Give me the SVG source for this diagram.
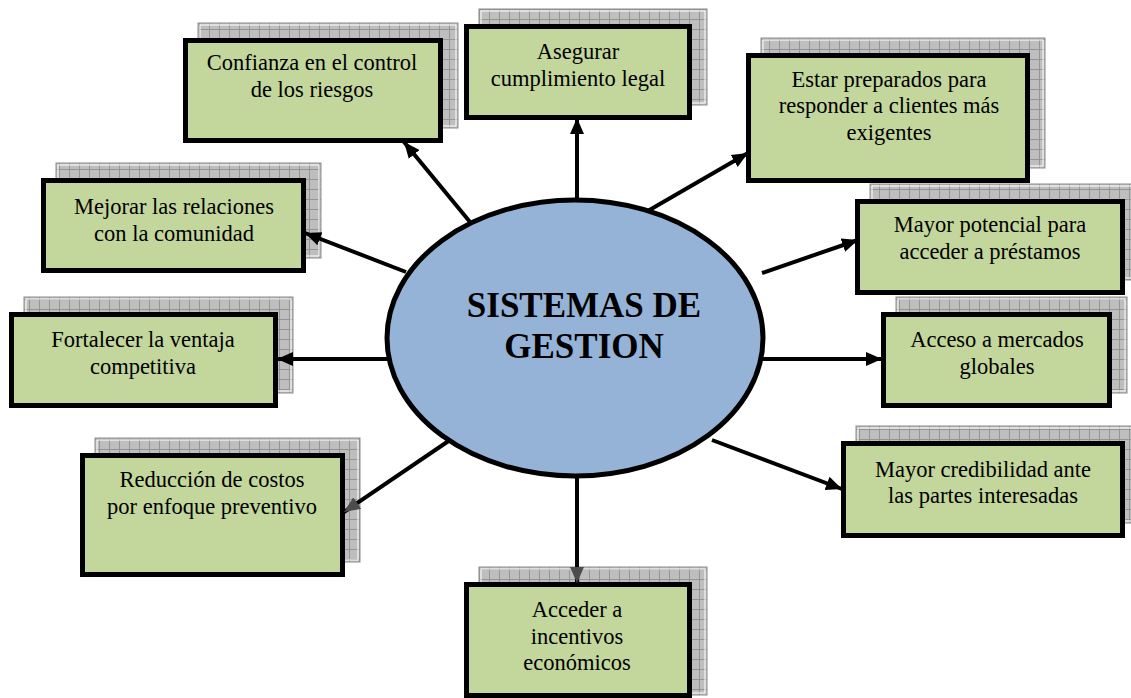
<svg xmlns="http://www.w3.org/2000/svg" width="1131" height="698" viewBox="0 0 1131 698">
  <style>
    .shadow { fill: url(#grid); stroke: #8c8c8c; stroke-width: 1; }
    .shadow-in { fill: none; stroke: #ffffff; stroke-width: 1; }
    .box { fill: #c3d69b; stroke: #000000; stroke-width: 5; }
    .conn { stroke: #000000; stroke-width: 4; fill: none; }
    text { font-family: "Liberation Serif", serif; }
    .label { font-size: 22.5px; font-weight: 400; text-anchor: middle; fill: #000000; }
    .title { font-size: 35px; font-weight: 700; text-anchor: middle; fill: #000000; }
  </style>
  <defs>
    <!-- grey grid used for the drop shadows behind the boxes -->
    <pattern id="grid" patternUnits="userSpaceOnUse" width="10" height="10">
      <rect width="10" height="10" fill="#bebebe"/>
      <path d="M9.5 0 V10 M0 9.5 H10" stroke="#949494" stroke-width="1"/>
    </pattern>
    <marker id="head" markerUnits="userSpaceOnUse" markerWidth="18" markerHeight="16" refX="16" refY="8" orient="auto">
      <path d="M0 1 L16 8 L0 15 Z" fill="#000000"/>
    </marker>
    <marker id="head-grey" markerUnits="userSpaceOnUse" markerWidth="18" markerHeight="16" refX="16" refY="8" orient="auto">
      <path d="M0 1 L16 8 L0 15 Z" fill="#4d4d4d"/>
    </marker>
  </defs>

  <rect width="1131" height="698" fill="#ffffff"/>

  <g id="n-confianza">
    <rect class="shadow" x="198" y="23" width="260" height="105"/>
    <rect class="shadow-in" x="200" y="25" width="256" height="101"/>
    <rect class="box" x="185.5" y="40.5" width="255" height="100"/>
    <text class="label" x="312" y="70">Confianza en el control</text>
    <text class="label" x="312" y="97">de los riesgos</text>
  </g>

  <g id="n-asegurar">
    <rect class="shadow" x="479" y="9" width="228" height="96"/>
    <rect class="shadow-in" x="481" y="11" width="224" height="92"/>
    <rect class="box" x="466.5" y="26.5" width="223" height="91"/>
    <text class="label" x="578" y="59">Asegurar</text>
    <text class="label" x="578" y="86">cumplimiento legal</text>
  </g>

  <g id="n-estar">
    <rect class="shadow" x="761" y="38" width="284" height="130"/>
    <rect class="shadow-in" x="763" y="40" width="280" height="126"/>
    <rect class="box" x="748.5" y="55.5" width="279" height="125"/>
    <text class="label" x="889" y="87">Estar preparados para</text>
    <text class="label" x="889" y="113">responder a clientes más</text>
    <text class="label" x="889" y="140">exigentes</text>
  </g>

  <g id="n-mejorar">
    <rect class="shadow" x="56" y="163" width="265" height="95"/>
    <rect class="shadow-in" x="58" y="165" width="261" height="91"/>
    <rect class="box" x="43.5" y="180.5" width="260" height="90"/>
    <text class="label" x="174" y="214">Mejorar las relaciones</text>
    <text class="label" x="174" y="241">con la comunidad</text>
  </g>

  <g id="n-prestamos">
    <rect class="shadow" x="870" y="184" width="270" height="96"/>
    <rect class="shadow-in" x="872" y="186" width="266" height="92"/>
    <rect class="box" x="857.5" y="201.5" width="265" height="91"/>
    <text class="label" x="990" y="232">Mayor potencial para</text>
    <text class="label" x="990" y="259">acceder a préstamos</text>
  </g>

  <g id="n-fortalecer">
    <rect class="shadow" x="24" y="297" width="269" height="96"/>
    <rect class="shadow-in" x="26" y="299" width="265" height="92"/>
    <rect class="box" x="11.5" y="314.5" width="264" height="91"/>
    <text class="label" x="143" y="347">Fortalecer la ventaja</text>
    <text class="label" x="143" y="374">competitiva</text>
  </g>

  <g id="n-acceso">
    <rect class="shadow" x="896" y="297" width="231" height="96"/>
    <rect class="shadow-in" x="898" y="299" width="227" height="92"/>
    <rect class="box" x="883.5" y="314.5" width="226" height="91"/>
    <text class="label" x="997" y="347">Acceso a mercados</text>
    <text class="label" x="997" y="374">globales</text>
  </g>

  <g id="n-reduccion">
    <rect class="shadow" x="95" y="438" width="265" height="124"/>
    <rect class="shadow-in" x="97" y="440" width="261" height="120"/>
    <rect class="box" x="82.5" y="455.5" width="260" height="119"/>
    <text class="label" x="212" y="487">Reducción de costos</text>
    <text class="label" x="212" y="514">por enfoque preventivo</text>
  </g>

  <g id="n-credibilidad">
    <rect class="shadow" x="856" y="426" width="284" height="97"/>
    <rect class="shadow-in" x="858" y="428" width="280" height="93"/>
    <rect class="box" x="843.5" y="443.5" width="279" height="92"/>
    <text class="label" x="983" y="477">Mayor credibilidad ante</text>
    <text class="label" x="983" y="503">las partes interesadas</text>
  </g>

  <g id="n-incentivos">
    <rect class="shadow" x="479" y="567" width="228" height="128"/>
    <rect class="shadow-in" x="481" y="569" width="224" height="124"/>
    <rect class="box" x="466.5" y="584.5" width="223" height="111"/>
    <text class="label" x="577" y="617">Acceder a</text>
    <text class="label" x="577" y="644">incentivos</text>
    <text class="label" x="577" y="670">económicos</text>
  </g>

  <!-- connectors from the central ellipse, drawn over the box shadows -->
  <g id="connectors">
    <line class="conn" x1="470" y1="222" x2="404" y2="142" marker-end="url(#head)"/>
    <line class="conn" x1="577" y1="205" x2="577" y2="118" marker-end="url(#head)"/>
    <line class="conn" x1="646" y1="212" x2="748" y2="153" marker-end="url(#head)"/>
    <line class="conn" x1="406" y1="272" x2="305" y2="233" marker-end="url(#head)"/>
    <line class="conn" x1="762" y1="273" x2="858" y2="240" marker-end="url(#head)"/>
    <line class="conn" x1="390" y1="359" x2="277" y2="359" marker-end="url(#head)"/>
    <line class="conn" x1="760" y1="359" x2="882" y2="359" marker-end="url(#head)"/>
    <line class="conn" x1="450" y1="440" x2="344" y2="512" marker-end="url(#head-grey)"/>
    <line class="conn" x1="712" y1="440" x2="842" y2="489" marker-end="url(#head)"/>
    <line class="conn" x1="577" y1="472" x2="577" y2="583" marker-end="url(#head-grey)"/>
  </g>

  <g id="center">
    <ellipse cx="575" cy="338" rx="188" ry="138" fill="#95b3d7" stroke="#000000" stroke-width="5"/>
    <text class="title" x="584" y="317">SISTEMAS DE</text>
    <text class="title" x="584" y="358">GESTION</text>
  </g>
</svg>
